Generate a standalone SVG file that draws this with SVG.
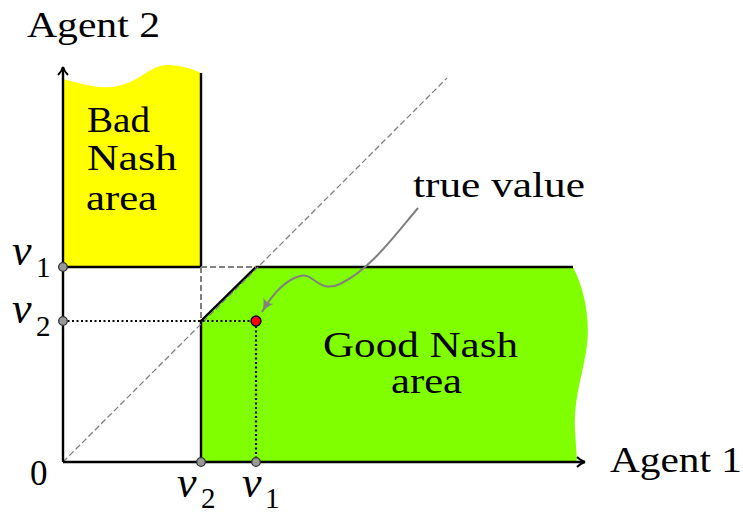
<svg xmlns="http://www.w3.org/2000/svg" width="743" height="514" viewBox="0 0 743 514">
<defs>
<style>
text{font-family:"Liberation Serif","Times New Roman",serif;fill:#000}
.lbl{font-size:35px}
.it{font-style:italic;font-size:44px}
.sub{font-size:29px}
.ax{stroke:#000;stroke-width:2.4;fill:none}
.bd{stroke:#000;stroke-width:2.4;fill:none}
.dot{fill:#999;stroke:#333;stroke-width:1.3}
</style>
<marker id="ah" viewBox="0 0 12 12" refX="10" refY="6" markerWidth="12" markerHeight="12" markerUnits="userSpaceOnUse" orient="auto">
<path d="M2,1 Q6,5 10,6 Q6,7 2,11" fill="none" stroke="#000" stroke-width="2"/>
</marker>
<marker id="gh" viewBox="0 0 16 16" refX="14" refY="8" markerWidth="16" markerHeight="16" markerUnits="userSpaceOnUse" orient="auto">
<path d="M1,2 Q8,7 14,8 Q8,9 1,14 Q5,8 1,2 Z" fill="#808080"/>
</marker>
</defs>

<g id="bad-area">
<path d="M63,79 C85,85 105,91 125,84 C145,77 152,64 170,65 C185,66 195,70 201,73 L201,267 L63,267 Z" fill="#ffff00"/>
<path class="bd" d="M201,73 L201,267 L63,267"/>
<text class="lbl" x="87" y="132" textLength="63" lengthAdjust="spacingAndGlyphs">Bad</text>
<text class="lbl" x="87" y="170" textLength="90" lengthAdjust="spacingAndGlyphs">Nash</text>
<text class="lbl" x="86" y="210" textLength="71" lengthAdjust="spacingAndGlyphs">area</text>
</g>

<g id="good-area">
<path d="M201,462 L201,321 L256,267 L573,267 C585,290 590,320 587,345 C584,370 573,400 575,430 L577,462 Z" fill="#80ff00"/>
<path class="bd" d="M201,462 L201,321 L256,267 L573,267"/>
<text class="lbl" x="323" y="357" textLength="195" lengthAdjust="spacingAndGlyphs">Good Nash</text>
<text class="lbl" x="391" y="393" textLength="71" lengthAdjust="spacingAndGlyphs">area</text>
</g>

<g id="connectors">
<path d="M63,462 L447,78" stroke="#808080" stroke-width="1.3" stroke-dasharray="6,3" fill="none"/>
<path d="M201,267 L256,267 M201,267 L201,321" stroke="#808080" stroke-width="2" stroke-dasharray="6,3" fill="none"/>
<path d="M63,321 L256,321 L256,462" stroke="#000" stroke-width="2.2" stroke-dasharray="2,2.5" fill="none"/>
<path class="ax" d="M63,462 L63,67" marker-end="url(#ah)"/>
<path class="ax" d="M63,462 L585,462" marker-end="url(#ah)"/>
<path d="M418,208 C395,235 370,270 340,284 C318,294 314,272 300,276 C285,280 272,295 262,312" stroke="#808080" stroke-width="2" fill="none" marker-end="url(#gh)"/>
</g>

<g id="points">
<circle class="dot" cx="63" cy="267" r="4.3"/>
<circle class="dot" cx="63" cy="321" r="4.3"/>
<circle class="dot" cx="201" cy="462" r="4.3"/>
<circle class="dot" cx="256" cy="462" r="4.3"/>
<circle cx="256" cy="321" r="5" fill="#ff0000" stroke="#000" stroke-width="1.3"/>
</g>

<g id="labels">
<text class="lbl" x="27" y="37" textLength="133" lengthAdjust="spacingAndGlyphs">Agent 2</text>
<text class="lbl" x="610" y="472" textLength="132" lengthAdjust="spacingAndGlyphs">Agent 1</text>
<text class="lbl" x="413" y="197" textLength="172" lengthAdjust="spacingAndGlyphs">true value</text>
<text class="lbl" x="30" y="485">0</text>
<text class="it" x="12" y="265">v</text><text class="sub" x="36" y="277">1</text>
<text class="it" x="12" y="323">v</text><text class="sub" x="36" y="336">2</text>
<text class="it" x="177" y="497">v</text><text class="sub" x="201" y="508">2</text>
<text class="it" x="242" y="497">v</text><text class="sub" x="265" y="508">1</text>
</g>
</svg>
